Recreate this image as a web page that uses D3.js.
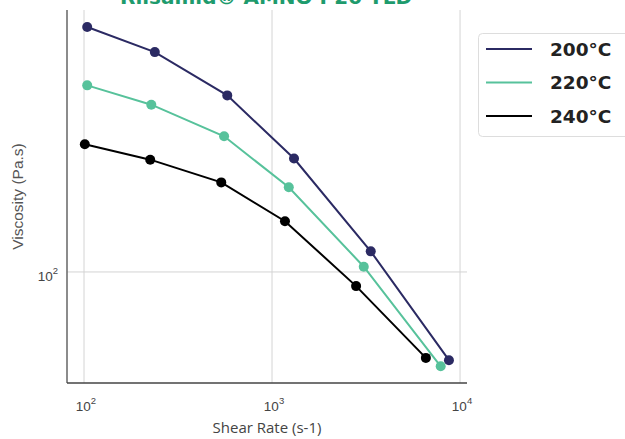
<!DOCTYPE html>
<html>
<head>
<meta charset="utf-8">
<script src="https://d3js.org/d3.v7.min.js"></script>
<style>
  body { margin: 0; background: #fff; }
  svg { display: block; }
</style>
</head>
<body>
<div id="chart"></div>
<script>
// Data (log-log viscosity curves)
const seriesNames = ["200°C", "220°C", "240°C"];
const seriesColors = ["#2b2a63", "#57c29b", "#000000"];

const shear200 = [104, 238, 578, 1309, 3350, 8730];
const visc200 = [621, 515, 373, 233, 116.6, 51.8];

const shear220 = [104, 228, 556, 1228, 3076, 7890];
const visc220 = [402, 348, 275, 188, 104, 49.5];

const shear240 = [101, 225, 537, 1172, 2800, 6580];
const visc240 = [259, 231, 195, 146, 90, 52.7];

const xTicks = [100, 1000, 10000];
const yTicks = [100];

const titleText = "Rilsamid® AMNO P20 TLD";
const xLabel = "Shear Rate (s-1)";
const yLabel = "Viscosity (Pa.s)";

const width = 625, height = 439;
const margin = { top: 10, right: 158, bottom: 56, left: 67 };

const svg = d3.select("#chart").append("svg")
  .attr("width", width)
  .attr("height", height);

const x = d3.scaleLog()
  .domain([81.2, 10890])
  .range([margin.left, width - margin.right]);

const y = d3.scaleLog()
  .domain([43.7, 705])
  .range([height - margin.bottom, margin.top]);

// gridlines
svg.append("g")
  .selectAll("line")
  .data(xTicks)
  .join("line")
  .attr("x1", d => x(d)).attr("x2", d => x(d))
  .attr("y1", margin.top).attr("y2", height - margin.bottom)
  .attr("stroke", "#d4d4d4")
  .attr("stroke-width", 1);

svg.append("g")
  .selectAll("line")
  .data(yTicks)
  .join("line")
  .attr("y1", d => y(d)).attr("y2", d => y(d))
  .attr("x1", margin.left).attr("x2", width - margin.right)
  .attr("stroke", "#d4d4d4")
  .attr("stroke-width", 1);

// spines (left + bottom only)
svg.append("line")
  .attr("x1", margin.left).attr("x2", margin.left)
  .attr("y1", margin.top).attr("y2", height - margin.bottom)
  .attr("stroke", "#666").attr("stroke-width", 1.5);
svg.append("line")
  .attr("x1", margin.left).attr("x2", width - margin.right)
  .attr("y1", height - margin.bottom).attr("y2", height - margin.bottom)
  .attr("stroke", "#444").attr("stroke-width", 1.5);

// tick labels as 10^n
const powerLabel = (sel, d) => {
  const exp = Math.round(Math.log10(d));
  sel.append("tspan").text("10");
  sel.append("tspan").attr("dy", -7).attr("font-size", 9.5).text(exp);
};

svg.append("g")
  .selectAll("text")
  .data(xTicks)
  .join("text")
  .attr("x", d => x(d) + 2)
  .attr("y", 411)
  .attr("text-anchor", "middle")
  .attr("font-family", "Liberation Sans, Arial, sans-serif")
  .attr("font-size", 13.5)
  .attr("fill", "#444")
  .each(function(d) { powerLabel(d3.select(this), d); });

svg.append("g")
  .selectAll("text")
  .data(yTicks)
  .join("text")
  .attr("x", 58)
  .attr("y", d => y(d) + 9)
  .attr("text-anchor", "end")
  .attr("font-family", "Liberation Sans, Arial, sans-serif")
  .attr("font-size", 13.5)
  .attr("fill", "#444")
  .each(function(d) { powerLabel(d3.select(this), d); });

// axis labels
svg.append("text")
  .attr("x", (margin.left + width - margin.right) / 2)
  .attr("y", 433)
  .attr("text-anchor", "middle")
  .attr("font-family", "Open Sans, sans-serif")
  .attr("font-size", 15)
  .attr("fill", "#444")
  .text(xLabel);

svg.append("text")
  .attr("transform", `translate(23,${(margin.top + height - margin.bottom) / 2}) rotate(-90)`)
  .attr("text-anchor", "middle")
  .attr("font-family", "Liberation Sans, Arial, sans-serif")
  .attr("font-size", 15.5)
  .attr("fill", "#555")
  .text(yLabel);

// title (cut off at the top, as in the reference)
svg.append("text")
  .attr("x", 266)
  .attr("y", 4)
  .attr("text-anchor", "middle")
  .attr("font-family", "DejaVu Sans, sans-serif")
  .attr("font-weight", "bold")
  .attr("font-size", 20)
  .attr("fill", "#1e9b6d")
  .text(titleText);

// series
const series = [
  { name: seriesNames[0], color: seriesColors[0], xs: shear200, ys: visc200 },
  { name: seriesNames[1], color: seriesColors[1], xs: shear220, ys: visc220 },
  { name: seriesNames[2], color: seriesColors[2], xs: shear240, ys: visc240 }
];

const line = d3.line().x(d => x(d[0])).y(d => y(d[1]));

series.forEach(s => {
  const pts = s.xs.map((v, i) => [v, s.ys[i]]);
  svg.append("path")
    .datum(pts)
    .attr("d", line)
    .attr("fill", "none")
    .attr("stroke", s.color)
    .attr("stroke-width", 2);
  svg.append("g")
    .selectAll("circle")
    .data(pts)
    .join("circle")
    .attr("cx", d => x(d[0]))
    .attr("cy", d => y(d[1]))
    .attr("r", 5)
    .attr("fill", s.color);
});

// legend
const legend = svg.append("g");
legend.append("rect")
  .attr("x", 478.5).attr("y", 33.5)
  .attr("width", 160).attr("height", 103)
  .attr("rx", 4)
  .attr("fill", "#fff")
  .attr("stroke", "#ddd");

series.forEach((s, i) => {
  const ly = 49 + i * 33.5;
  legend.append("line")
    .attr("x1", 486).attr("x2", 532)
    .attr("y1", ly).attr("y2", ly)
    .attr("stroke", s.color)
    .attr("stroke-width", 2);
  legend.append("text")
    .attr("x", 550)
    .attr("y", ly + 6.5)
    .attr("font-family", "DejaVu Sans, sans-serif")
    .attr("font-weight", "bold")
    .attr("font-size", 18.5)
    .attr("fill", "#222")
    .text(s.name);
});
</script>
</body>
</html>
